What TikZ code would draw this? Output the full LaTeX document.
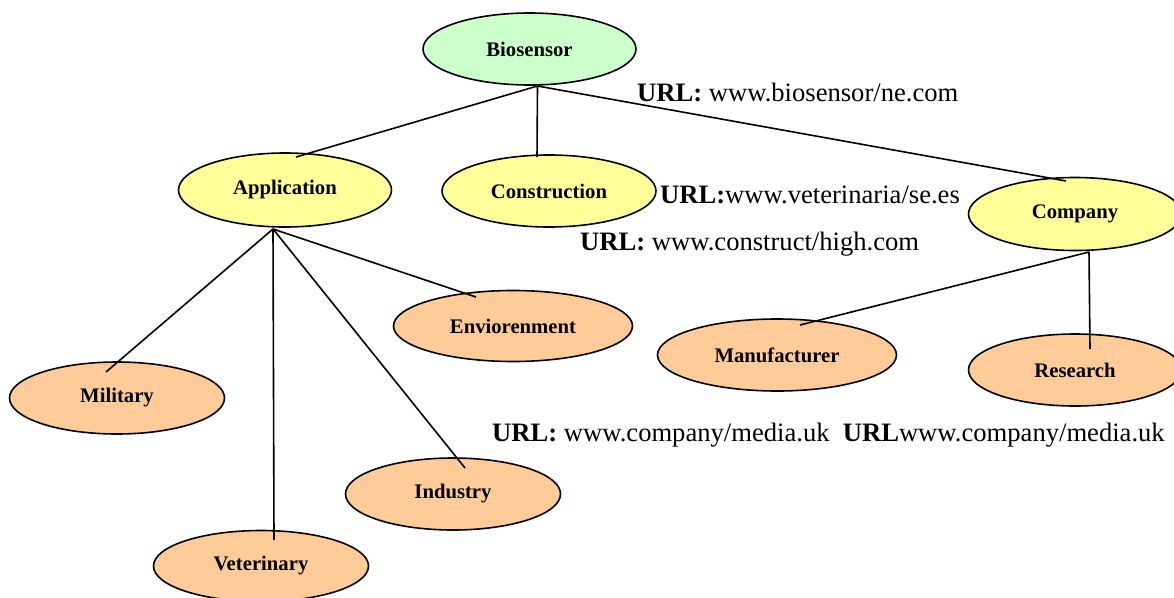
\documentclass[tikz,border=0pt]{standalone}
\usepackage{fontspec}
\setmainfont{Liberation Serif}
\usetikzlibrary{shapes.geometric,calc}
\definecolor{rootgreen}{RGB}{204,255,204}
\definecolor{midyellow}{RGB}{255,255,153}
\definecolor{leaforange}{RGB}{255,204,153}
\tikzset{
  topic/.style={ellipse, draw=black, line width=1.6pt, inner sep=0pt,
    font=\fontsize{20.7}{24}\selectfont\bfseries},
  rootnode/.style={topic, fill=rootgreen},
  midnode/.style={topic, fill=midyellow},
  leafnode/.style={topic, fill=leaforange},
  link/.style={line width=1.6pt},
  urltext/.style={anchor=base west, inner sep=0pt,
    font=\fontsize{26.6}{31}\selectfont}
}
\begin{document}
\begin{tikzpicture}[x=1pt,y=-1pt]
\clip (0,0) rectangle (1174,597);
\useasboundingbox (0,0) rectangle (1174,597);

% ellipses
\node[rootnode, minimum width=213pt, minimum height=72pt] (bio) at (529.5,49) {Biosensor};
\node[midnode, minimum width=213pt, minimum height=74pt] (app) at (285,190) {Application};
\node[midnode, minimum width=214pt, minimum height=72pt] (con) at (549,191) {Construction};
\node[midnode, minimum width=213pt, minimum height=73pt] (com) at (1075,214) {Company};
\node[leafnode, minimum width=239pt, minimum height=71pt] (env) at (513,326) {Enviorenment};
\node[leafnode, minimum width=239pt, minimum height=72pt] (man) at (777,355) {Manufacturer};
\node[leafnode, minimum width=213pt, minimum height=72pt] (res) at (1075,370) {Research};
\node[leafnode, minimum width=215pt, minimum height=72pt] (mil) at (117,398) {Military};
\node[leafnode, minimum width=215pt, minimum height=72pt] (ind) at (453,494) {Industry};
\node[leafnode, minimum width=215pt, minimum height=71pt] (vet) at (261,566) {Veterinary};

% connectors
\draw[link] ($(bio)+(8,37)$) -- ($(app)+(11,-33)$);
\draw[link] ($(bio)+(8,37)$) -- ($(con)+(-12,-34)$);
\draw[link] ($(bio)+(8,37)$) -- ($(com)+(-9,-33)$);
\draw[link] ($(app)+(-12,39)$) -- ($(mil)+(-11,-26)$);
\draw[link] ($(app)+(-12,39)$) -- ($(vet)+(13,-26)$);
\draw[link] ($(app)+(-12,39)$) -- ($(ind)+(12,-26)$);
\draw[link] ($(app)+(-12,39)$) -- ($(env)+(-37,-29)$);
\draw[link] ($(com)+(14,38)$) -- ($(man)+(23,-30)$);
\draw[link] ($(com)+(14,38)$) -- ($(res)+(15,-21)$);

% address labels
\node[urltext] (u1) at (637,101) {\textbf{URL:} www.biosensor/ne.com};
\node[urltext] (u2) at (660,203) {\textbf{URL:}www.veterinaria/se.es};
\node[urltext] (u3) at (580,250) {\textbf{URL:} www.construct/high.com};
\node[urltext] (u4) at (492,441) {\textbf{URL:} www.company/media.uk\ \ \textbf{URL}www.company/media.uk};
\end{tikzpicture}
\end{document}
